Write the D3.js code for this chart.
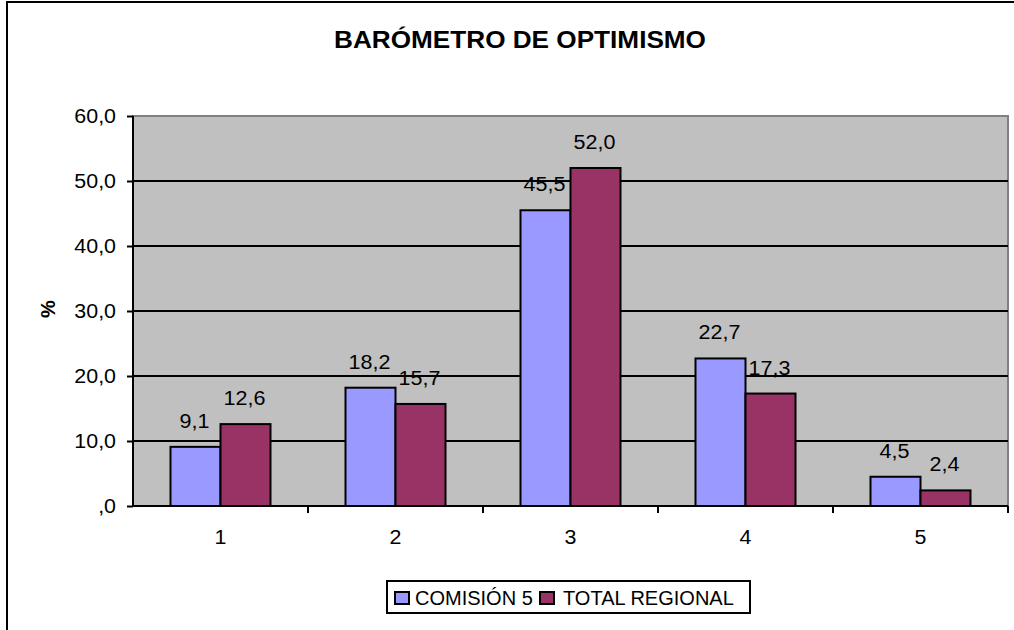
<!DOCTYPE html>
<html>
<head>
<meta charset="utf-8">
<script src="https://cdn.jsdelivr.net/npm/d3@7"></script>
<style>
  body { margin: 0; background: #fff; }
  text { font-family: "Liberation Sans", Arial, sans-serif; fill: #000; }
</style>
</head>
<body>
<div id="chart"></div>
<script>
const categories = ['1', '2', '3', '4', '5'];
const seriesNames = ['COMISIÓN 5', 'TOTAL REGIONAL'];
const comision5 = [9.1, 18.2, 45.5, 22.7, 4.5];
const totalRegional = [12.6, 15.7, 52.0, 17.3, 2.4];
const yTicks = [0, 10, 20, 30, 40, 50, 60];
const colors = ['#9999FF', '#993366'];

const W = 1014, H = 630;
const plot = { left: 133, right: 1008, top: 116, bottom: 506 };

const svg = d3.select('#chart').append('svg')
    .attr('width', W)
    .attr('height', H);

// text in the original is stretched a little sideways
function label(g, x, y, str, size, anchor, bold, sx) {
    return g.append('text')
        .attr('transform', 'translate(' + x + ',' + y + ') scale(' + sx + ',1)')
        .attr('text-anchor', anchor)
        .style('font-size', size + 'px')
        .style('font-weight', bold ? 'bold' : 'normal')
        .text(str);
}

// outer frame
svg.append('rect')
    .attr('x', 7).attr('y', 2)
    .attr('width', W + 10).attr('height', H + 10)
    .attr('fill', '#fff')
    .attr('stroke', '#000')
    .attr('stroke-width', 2);

const x0 = d3.scaleBand().domain(categories).range([plot.left, plot.right]);
const x1 = d3.scaleBand().domain(seriesNames)
    .range([x0.bandwidth() * 0.2142857, x0.bandwidth() * 0.7857143]);
const y = d3.scaleLinear().domain([0, 60]).range([plot.bottom, plot.top]);

const fmt = v => v === 0 ? ',0' : d3.format('.1f')(v).replace('.', ',');

// plot background
svg.append('rect')
    .attr('x', plot.left).attr('y', plot.top)
    .attr('width', plot.right - plot.left).attr('height', plot.bottom - plot.top)
    .attr('fill', '#C0C0C0')
    .attr('stroke', '#808080')
    .attr('stroke-width', 2);

// gridlines
svg.append('g').selectAll('line')
    .data(yTicks.filter(d => d > 0 && d < 60))
    .join('line')
    .attr('x1', plot.left).attr('x2', plot.right)
    .attr('y1', d => y(d)).attr('y2', d => y(d))
    .attr('stroke', '#000')
    .attr('stroke-width', 2);

// bars
const rows = categories.map((c, i) => ({ cat: c, vals: [comision5[i], totalRegional[i]] }));
const groups = svg.append('g').selectAll('g')
    .data(rows)
    .join('g')
    .attr('transform', d => 'translate(' + x0(d.cat) + ',0)');

groups.selectAll('rect')
    .data(d => d.vals.map((v, j) => ({ v: v, s: seriesNames[j], j: j })))
    .join('rect')
    .attr('x', d => x1(d.s))
    .attr('y', d => y(d.v))
    .attr('width', x1.bandwidth())
    .attr('height', d => y(0) - y(d.v))
    .attr('fill', d => colors[d.j])
    .attr('stroke', '#000')
    .attr('stroke-width', 2);

// data labels
groups.each(function (d) {
    const g = d3.select(this);
    d.vals.forEach((v, j) => {
        label(g, x1(seriesNames[j]) + x1.bandwidth() / 2 - 1, y(v) - 19, fmt(v), 20.5, 'middle', false, 1.05);
    });
});

// y axis
const yAxis = d3.axisLeft(y).tickValues(yTicks).tickFormat(fmt).tickSize(6).tickPadding(10);
const yg = svg.append('g').attr('transform', 'translate(' + plot.left + ',0)').call(yAxis);
yg.select('.domain').attr('stroke', '#000').attr('stroke-width', 2).attr('d', 'M0,' + plot.top + 'V' + plot.bottom);
yg.selectAll('.tick line').attr('stroke', '#000').attr('stroke-width', 2);
yg.selectAll('.tick text').remove();
yTicks.forEach(t => label(svg, plot.left - 17, y(t) + 7, fmt(t), 20, 'end', false, 1.07));

// x axis
const xAxis = d3.axisBottom(x0).tickSize(0).tickFormat('');
const xg = svg.append('g').attr('transform', 'translate(0,' + plot.bottom + ')').call(xAxis);
xg.select('.domain').attr('stroke', '#000').attr('stroke-width', 2).attr('d', 'M' + plot.left + ',0H' + plot.right);
xg.selectAll('.tick').remove();
svg.append('g').selectAll('line')
    .data(categories.slice(1).concat(['end']))
    .join('line')
    .attr('x1', d => d === 'end' ? plot.right : x0(d))
    .attr('x2', d => d === 'end' ? plot.right : x0(d))
    .attr('y1', plot.bottom).attr('y2', plot.bottom + 7)
    .attr('stroke', '#000').attr('stroke-width', 2);
categories.forEach(c => label(svg, x0(c) + x0.bandwidth() / 2, 544, c, 20, 'middle', false, 1.07));

// title
label(svg, 520, 48, 'BARÓMETRO DE OPTIMISMO', 24, 'middle', true, 1.09);

// y axis title
svg.append('text')
    .attr('transform', 'translate(55,309) rotate(-90)')
    .attr('text-anchor', 'middle')
    .style('font-size', '20px')
    .style('font-weight', 'bold')
    .text('%');

// legend
const lg = svg.append('g');
lg.append('rect')
    .attr('x', 387).attr('y', 581).attr('width', 363).attr('height', 32)
    .attr('fill', '#fff').attr('stroke', '#000').attr('stroke-width', 2);
const legendX = [395, 540];
const legendTextX = [415, 563];
seriesNames.forEach((s, j) => {
    lg.append('rect')
        .attr('x', legendX[j]).attr('y', 592).attr('width', 14).attr('height', 12)
        .attr('fill', colors[j]).attr('stroke', '#000').attr('stroke-width', 2);
    label(lg, legendTextX[j], 605, s, 20, 'start', false, 1.0);
});
</script>
</body>
</html>
